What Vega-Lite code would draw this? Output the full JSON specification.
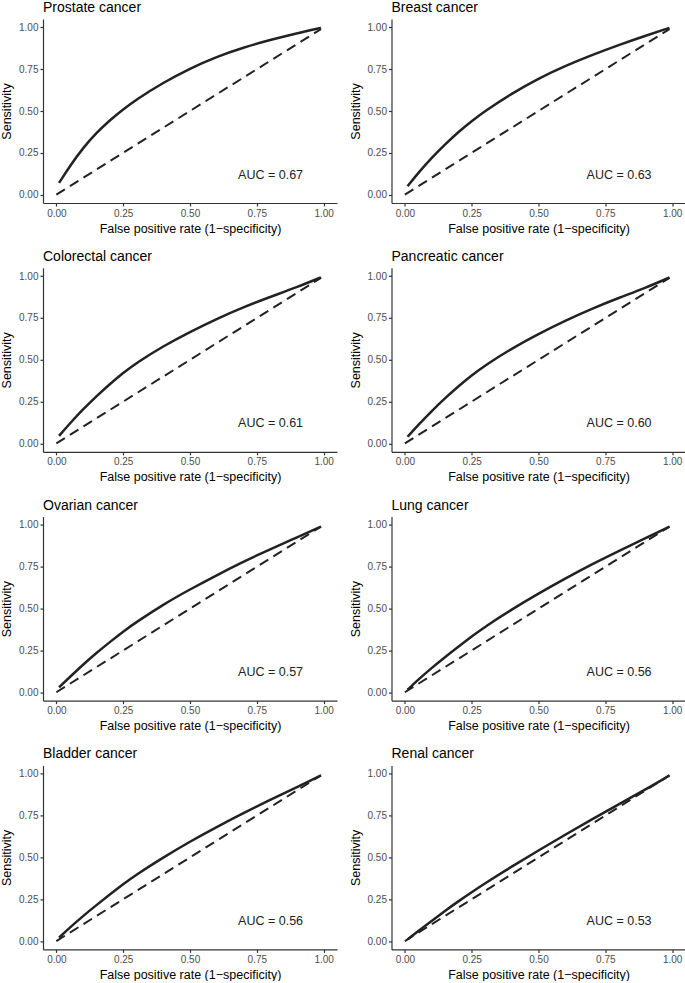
{
"$schema": "https://vega.github.io/schema/vega-lite/v6.json",
"padding": {"left": 0, "top": 1, "right": 0, "bottom": 0},
"bounds": "flush",
"columns": 2,
"spacing": {"row": 64.8, "column": 54.5},
"config": {
  "font": "Liberation Sans",
  "view": {"stroke": null},
  "title": {"anchor": "start", "frame": "group", "fontSize": 14, "fontWeight": "normal", "color": "#000000", "offset": 4},
  "axis": {"grid": false, "domainColor": "#333333", "domainWidth": 1.2, "tickColor": "#333333", "tickWidth": 1.2, "tickSize": 3, "labelFontSize": 10, "labelColor": "#4d4d4d", "labelPadding": 2, "titleFontSize": 12.5, "titleFontWeight": "normal", "titleColor": "#000000"},
  "axisX": {"titlePadding": 4},
  "axisY": {"titlePadding": 5}
},
"datasets": {
"diag": [
  {"k": "ref", "fpr": 0, "sens": 0}, {"k": "ref", "fpr": 1, "sens": 1},
  {"k": "dash", "fpr": 0, "sens": 0}, {"k": "dash", "fpr": 0.99, "sens": 0.99}
],
"auc": [
  {"c": "Prostate", "fpr": 0.68, "sens": 0.12, "label": "AUC = 0.67"},
  {"c": "Breast", "fpr": 0.68, "sens": 0.12, "label": "AUC = 0.63"},
  {"c": "Colorectal", "fpr": 0.68, "sens": 0.12, "label": "AUC = 0.61"},
  {"c": "Pancreatic", "fpr": 0.68, "sens": 0.12, "label": "AUC =  0.60"},
  {"c": "Ovarian", "fpr": 0.68, "sens": 0.12, "label": "AUC = 0.57"},
  {"c": "Lung", "fpr": 0.68, "sens": 0.12, "label": "AUC = 0.56"},
  {"c": "Bladder", "fpr": 0.68, "sens": 0.12, "label": "AUC = 0.56"},
  {"c": "Renal", "fpr": 0.68, "sens": 0.12, "label": "AUC = 0.53"}
],
"roc": [
  {"c":"Prostate","fpr":0.01,"sens":0.07},{"c":"Prostate","fpr":0.05,"sens":0.17},{"c":"Prostate","fpr":0.10,"sens":0.28},{"c":"Prostate","fpr":0.15,"sens":0.37},{"c":"Prostate","fpr":0.20,"sens":0.445},{"c":"Prostate","fpr":0.25,"sens":0.51},{"c":"Prostate","fpr":0.30,"sens":0.57},{"c":"Prostate","fpr":0.40,"sens":0.67},{"c":"Prostate","fpr":0.50,"sens":0.755},{"c":"Prostate","fpr":0.60,"sens":0.825},{"c":"Prostate","fpr":0.70,"sens":0.88},{"c":"Prostate","fpr":0.80,"sens":0.925},{"c":"Prostate","fpr":0.90,"sens":0.965},{"c":"Prostate","fpr":0.99,"sens":0.997},
  {"c":"Breast","fpr":0.01,"sens":0.05},{"c":"Breast","fpr":0.05,"sens":0.13},{"c":"Breast","fpr":0.10,"sens":0.22},{"c":"Breast","fpr":0.15,"sens":0.30},{"c":"Breast","fpr":0.20,"sens":0.375},{"c":"Breast","fpr":0.25,"sens":0.44},{"c":"Breast","fpr":0.30,"sens":0.50},{"c":"Breast","fpr":0.40,"sens":0.605},{"c":"Breast","fpr":0.50,"sens":0.695},{"c":"Breast","fpr":0.60,"sens":0.77},{"c":"Breast","fpr":0.70,"sens":0.835},{"c":"Breast","fpr":0.80,"sens":0.895},{"c":"Breast","fpr":0.90,"sens":0.95},{"c":"Breast","fpr":0.99,"sens":0.997},
  {"c":"Colorectal","fpr":0.01,"sens":0.045},{"c":"Colorectal","fpr":0.05,"sens":0.119},{"c":"Colorectal","fpr":0.10,"sens":0.204},{"c":"Colorectal","fpr":0.15,"sens":0.283},{"c":"Colorectal","fpr":0.20,"sens":0.355},{"c":"Colorectal","fpr":0.25,"sens":0.422},{"c":"Colorectal","fpr":0.30,"sens":0.482},{"c":"Colorectal","fpr":0.40,"sens":0.582},{"c":"Colorectal","fpr":0.50,"sens":0.667},{"c":"Colorectal","fpr":0.60,"sens":0.745},{"c":"Colorectal","fpr":0.70,"sens":0.815},{"c":"Colorectal","fpr":0.80,"sens":0.876},{"c":"Colorectal","fpr":0.90,"sens":0.934},{"c":"Colorectal","fpr":0.99,"sens":0.993},
  {"c":"Pancreatic","fpr":0.01,"sens":0.04},{"c":"Pancreatic","fpr":0.05,"sens":0.11},{"c":"Pancreatic","fpr":0.10,"sens":0.193},{"c":"Pancreatic","fpr":0.15,"sens":0.27},{"c":"Pancreatic","fpr":0.20,"sens":0.341},{"c":"Pancreatic","fpr":0.25,"sens":0.407},{"c":"Pancreatic","fpr":0.30,"sens":0.467},{"c":"Pancreatic","fpr":0.40,"sens":0.568},{"c":"Pancreatic","fpr":0.50,"sens":0.655},{"c":"Pancreatic","fpr":0.60,"sens":0.734},{"c":"Pancreatic","fpr":0.70,"sens":0.806},{"c":"Pancreatic","fpr":0.80,"sens":0.87},{"c":"Pancreatic","fpr":0.90,"sens":0.93},{"c":"Pancreatic","fpr":0.99,"sens":0.992},
  {"c":"Ovarian","fpr":0.01,"sens":0.03},{"c":"Ovarian","fpr":0.05,"sens":0.09},{"c":"Ovarian","fpr":0.10,"sens":0.165},{"c":"Ovarian","fpr":0.15,"sens":0.235},{"c":"Ovarian","fpr":0.20,"sens":0.30},{"c":"Ovarian","fpr":0.25,"sens":0.363},{"c":"Ovarian","fpr":0.30,"sens":0.42},{"c":"Ovarian","fpr":0.40,"sens":0.525},{"c":"Ovarian","fpr":0.50,"sens":0.615},{"c":"Ovarian","fpr":0.60,"sens":0.70},{"c":"Ovarian","fpr":0.70,"sens":0.78},{"c":"Ovarian","fpr":0.75,"sens":0.818},{"c":"Ovarian","fpr":0.80,"sens":0.855},{"c":"Ovarian","fpr":0.90,"sens":0.925},{"c":"Ovarian","fpr":0.99,"sens":0.99},
  {"c":"Lung","fpr":0.01,"sens":0.015},{"c":"Lung","fpr":0.05,"sens":0.075},{"c":"Lung","fpr":0.10,"sens":0.145},{"c":"Lung","fpr":0.15,"sens":0.21},{"c":"Lung","fpr":0.20,"sens":0.272},{"c":"Lung","fpr":0.25,"sens":0.333},{"c":"Lung","fpr":0.30,"sens":0.392},{"c":"Lung","fpr":0.40,"sens":0.495},{"c":"Lung","fpr":0.50,"sens":0.59},{"c":"Lung","fpr":0.60,"sens":0.68},{"c":"Lung","fpr":0.70,"sens":0.765},{"c":"Lung","fpr":0.80,"sens":0.845},{"c":"Lung","fpr":0.90,"sens":0.92},{"c":"Lung","fpr":0.99,"sens":0.99},
  {"c":"Bladder","fpr":0.01,"sens":0.02},{"c":"Bladder","fpr":0.05,"sens":0.08},{"c":"Bladder","fpr":0.10,"sens":0.15},{"c":"Bladder","fpr":0.15,"sens":0.215},{"c":"Bladder","fpr":0.20,"sens":0.278},{"c":"Bladder","fpr":0.25,"sens":0.34},{"c":"Bladder","fpr":0.30,"sens":0.398},{"c":"Bladder","fpr":0.40,"sens":0.50},{"c":"Bladder","fpr":0.50,"sens":0.595},{"c":"Bladder","fpr":0.60,"sens":0.682},{"c":"Bladder","fpr":0.70,"sens":0.765},{"c":"Bladder","fpr":0.80,"sens":0.845},{"c":"Bladder","fpr":0.90,"sens":0.92},{"c":"Bladder","fpr":0.99,"sens":0.99},
  {"c":"Renal","fpr":0.01,"sens":0.01},{"c":"Renal","fpr":0.05,"sens":0.06},{"c":"Renal","fpr":0.10,"sens":0.12},{"c":"Renal","fpr":0.15,"sens":0.18},{"c":"Renal","fpr":0.20,"sens":0.2375},{"c":"Renal","fpr":0.25,"sens":0.2925},{"c":"Renal","fpr":0.30,"sens":0.3455},{"c":"Renal","fpr":0.40,"sens":0.4455},{"c":"Renal","fpr":0.50,"sens":0.5415},{"c":"Renal","fpr":0.60,"sens":0.6355},{"c":"Renal","fpr":0.70,"sens":0.7275},{"c":"Renal","fpr":0.80,"sens":0.8175},{"c":"Renal","fpr":0.90,"sens":0.9055},{"c":"Renal","fpr":0.99,"sens":0.99}
]
},
"concat": [
{"title": "Prostate cancer", "width": 294, "height": 184,
 "encoding": {"x": {"field": "fpr", "type": "quantitative", "scale": {"domain": [-0.05, 1.05], "nice": false, "zero": false}, "axis": {"values": [0, 0.25, 0.5, 0.75, 1], "format": ".2f", "title": "False positive rate (1−specificity)"}},
              "y": {"field": "sens", "type": "quantitative", "scale": {"domain": [-0.05, 1.05], "nice": false, "zero": false}, "axis": {"values": [0, 0.25, 0.5, 0.75, 1], "format": ".2f", "title": "Sensitivity"}}},
 "layer": [
  {"data": {"name": "diag"}, "transform": [{"filter": "datum.k === 'ref'"}], "mark": {"type": "line", "color": "#dddddd", "strokeWidth": 0.5}},
  {"data": {"name": "diag"}, "transform": [{"filter": "datum.k === 'dash'"}], "mark": {"type": "line", "color": "#222222", "strokeWidth": 2, "strokeDash": [10, 6]}},
  {"data": {"name": "roc"}, "transform": [{"filter": "datum.c === 'Prostate'"}], "mark": {"type": "line", "color": "#222222", "strokeWidth": 2.5, "interpolate": "basis"}},
  {"data": {"name": "auc"}, "transform": [{"filter": "datum.c === 'Prostate'"}], "mark": {"type": "text", "align": "left", "baseline": "middle", "fontSize": 12.5, "color": "#222222"}, "encoding": {"text": {"field": "label"}}}
 ]},
{"title": "Breast cancer", "width": 294, "height": 184,
 "encoding": {"x": {"field": "fpr", "type": "quantitative", "scale": {"domain": [-0.05, 1.05], "nice": false, "zero": false}, "axis": {"values": [0, 0.25, 0.5, 0.75, 1], "format": ".2f", "title": "False positive rate (1−specificity)"}},
              "y": {"field": "sens", "type": "quantitative", "scale": {"domain": [-0.05, 1.05], "nice": false, "zero": false}, "axis": {"values": [0, 0.25, 0.5, 0.75, 1], "format": ".2f", "title": "Sensitivity"}}},
 "layer": [
  {"data": {"name": "diag"}, "transform": [{"filter": "datum.k === 'ref'"}], "mark": {"type": "line", "color": "#dddddd", "strokeWidth": 0.5}},
  {"data": {"name": "diag"}, "transform": [{"filter": "datum.k === 'dash'"}], "mark": {"type": "line", "color": "#222222", "strokeWidth": 2, "strokeDash": [10, 6]}},
  {"data": {"name": "roc"}, "transform": [{"filter": "datum.c === 'Breast'"}], "mark": {"type": "line", "color": "#222222", "strokeWidth": 2.5, "interpolate": "basis"}},
  {"data": {"name": "auc"}, "transform": [{"filter": "datum.c === 'Breast'"}], "mark": {"type": "text", "align": "left", "baseline": "middle", "fontSize": 12.5, "color": "#222222"}, "encoding": {"text": {"field": "label"}}}
 ]},
{"title": "Colorectal cancer", "width": 294, "height": 184,
 "encoding": {"x": {"field": "fpr", "type": "quantitative", "scale": {"domain": [-0.05, 1.05], "nice": false, "zero": false}, "axis": {"values": [0, 0.25, 0.5, 0.75, 1], "format": ".2f", "title": "False positive rate (1−specificity)"}},
              "y": {"field": "sens", "type": "quantitative", "scale": {"domain": [-0.05, 1.05], "nice": false, "zero": false}, "axis": {"values": [0, 0.25, 0.5, 0.75, 1], "format": ".2f", "title": "Sensitivity"}}},
 "layer": [
  {"data": {"name": "diag"}, "transform": [{"filter": "datum.k === 'ref'"}], "mark": {"type": "line", "color": "#dddddd", "strokeWidth": 0.5}},
  {"data": {"name": "diag"}, "transform": [{"filter": "datum.k === 'dash'"}], "mark": {"type": "line", "color": "#222222", "strokeWidth": 2, "strokeDash": [10, 6]}},
  {"data": {"name": "roc"}, "transform": [{"filter": "datum.c === 'Colorectal'"}], "mark": {"type": "line", "color": "#222222", "strokeWidth": 2.5, "interpolate": "basis"}},
  {"data": {"name": "auc"}, "transform": [{"filter": "datum.c === 'Colorectal'"}], "mark": {"type": "text", "align": "left", "baseline": "middle", "fontSize": 12.5, "color": "#222222"}, "encoding": {"text": {"field": "label"}}}
 ]},
{"title": "Pancreatic cancer", "width": 294, "height": 184,
 "encoding": {"x": {"field": "fpr", "type": "quantitative", "scale": {"domain": [-0.05, 1.05], "nice": false, "zero": false}, "axis": {"values": [0, 0.25, 0.5, 0.75, 1], "format": ".2f", "title": "False positive rate (1−specificity)"}},
              "y": {"field": "sens", "type": "quantitative", "scale": {"domain": [-0.05, 1.05], "nice": false, "zero": false}, "axis": {"values": [0, 0.25, 0.5, 0.75, 1], "format": ".2f", "title": "Sensitivity"}}},
 "layer": [
  {"data": {"name": "diag"}, "transform": [{"filter": "datum.k === 'ref'"}], "mark": {"type": "line", "color": "#dddddd", "strokeWidth": 0.5}},
  {"data": {"name": "diag"}, "transform": [{"filter": "datum.k === 'dash'"}], "mark": {"type": "line", "color": "#222222", "strokeWidth": 2, "strokeDash": [10, 6]}},
  {"data": {"name": "roc"}, "transform": [{"filter": "datum.c === 'Pancreatic'"}], "mark": {"type": "line", "color": "#222222", "strokeWidth": 2.5, "interpolate": "basis"}},
  {"data": {"name": "auc"}, "transform": [{"filter": "datum.c === 'Pancreatic'"}], "mark": {"type": "text", "align": "left", "baseline": "middle", "fontSize": 12.5, "color": "#222222"}, "encoding": {"text": {"field": "label"}}}
 ]},
{"title": "Ovarian cancer", "width": 294, "height": 184,
 "encoding": {"x": {"field": "fpr", "type": "quantitative", "scale": {"domain": [-0.05, 1.05], "nice": false, "zero": false}, "axis": {"values": [0, 0.25, 0.5, 0.75, 1], "format": ".2f", "title": "False positive rate (1−specificity)"}},
              "y": {"field": "sens", "type": "quantitative", "scale": {"domain": [-0.05, 1.05], "nice": false, "zero": false}, "axis": {"values": [0, 0.25, 0.5, 0.75, 1], "format": ".2f", "title": "Sensitivity"}}},
 "layer": [
  {"data": {"name": "diag"}, "transform": [{"filter": "datum.k === 'ref'"}], "mark": {"type": "line", "color": "#dddddd", "strokeWidth": 0.5}},
  {"data": {"name": "diag"}, "transform": [{"filter": "datum.k === 'dash'"}], "mark": {"type": "line", "color": "#222222", "strokeWidth": 2, "strokeDash": [10, 6]}},
  {"data": {"name": "roc"}, "transform": [{"filter": "datum.c === 'Ovarian'"}], "mark": {"type": "line", "color": "#222222", "strokeWidth": 2.5, "interpolate": "basis"}},
  {"data": {"name": "auc"}, "transform": [{"filter": "datum.c === 'Ovarian'"}], "mark": {"type": "text", "align": "left", "baseline": "middle", "fontSize": 12.5, "color": "#222222"}, "encoding": {"text": {"field": "label"}}}
 ]},
{"title": "Lung cancer", "width": 294, "height": 184,
 "encoding": {"x": {"field": "fpr", "type": "quantitative", "scale": {"domain": [-0.05, 1.05], "nice": false, "zero": false}, "axis": {"values": [0, 0.25, 0.5, 0.75, 1], "format": ".2f", "title": "False positive rate (1−specificity)"}},
              "y": {"field": "sens", "type": "quantitative", "scale": {"domain": [-0.05, 1.05], "nice": false, "zero": false}, "axis": {"values": [0, 0.25, 0.5, 0.75, 1], "format": ".2f", "title": "Sensitivity"}}},
 "layer": [
  {"data": {"name": "diag"}, "transform": [{"filter": "datum.k === 'ref'"}], "mark": {"type": "line", "color": "#dddddd", "strokeWidth": 0.5}},
  {"data": {"name": "diag"}, "transform": [{"filter": "datum.k === 'dash'"}], "mark": {"type": "line", "color": "#222222", "strokeWidth": 2, "strokeDash": [10, 6]}},
  {"data": {"name": "roc"}, "transform": [{"filter": "datum.c === 'Lung'"}], "mark": {"type": "line", "color": "#222222", "strokeWidth": 2.5, "interpolate": "basis"}},
  {"data": {"name": "auc"}, "transform": [{"filter": "datum.c === 'Lung'"}], "mark": {"type": "text", "align": "left", "baseline": "middle", "fontSize": 12.5, "color": "#222222"}, "encoding": {"text": {"field": "label"}}}
 ]},
{"title": "Bladder cancer", "width": 294, "height": 184,
 "encoding": {"x": {"field": "fpr", "type": "quantitative", "scale": {"domain": [-0.05, 1.05], "nice": false, "zero": false}, "axis": {"values": [0, 0.25, 0.5, 0.75, 1], "format": ".2f", "title": "False positive rate (1−specificity)"}},
              "y": {"field": "sens", "type": "quantitative", "scale": {"domain": [-0.05, 1.05], "nice": false, "zero": false}, "axis": {"values": [0, 0.25, 0.5, 0.75, 1], "format": ".2f", "title": "Sensitivity"}}},
 "layer": [
  {"data": {"name": "diag"}, "transform": [{"filter": "datum.k === 'ref'"}], "mark": {"type": "line", "color": "#dddddd", "strokeWidth": 0.5}},
  {"data": {"name": "diag"}, "transform": [{"filter": "datum.k === 'dash'"}], "mark": {"type": "line", "color": "#222222", "strokeWidth": 2, "strokeDash": [10, 6]}},
  {"data": {"name": "roc"}, "transform": [{"filter": "datum.c === 'Bladder'"}], "mark": {"type": "line", "color": "#222222", "strokeWidth": 2.5, "interpolate": "basis"}},
  {"data": {"name": "auc"}, "transform": [{"filter": "datum.c === 'Bladder'"}], "mark": {"type": "text", "align": "left", "baseline": "middle", "fontSize": 12.5, "color": "#222222"}, "encoding": {"text": {"field": "label"}}}
 ]},
{"title": "Renal cancer", "width": 294, "height": 184,
 "encoding": {"x": {"field": "fpr", "type": "quantitative", "scale": {"domain": [-0.05, 1.05], "nice": false, "zero": false}, "axis": {"values": [0, 0.25, 0.5, 0.75, 1], "format": ".2f", "title": "False positive rate (1−specificity)"}},
              "y": {"field": "sens", "type": "quantitative", "scale": {"domain": [-0.05, 1.05], "nice": false, "zero": false}, "axis": {"values": [0, 0.25, 0.5, 0.75, 1], "format": ".2f", "title": "Sensitivity"}}},
 "layer": [
  {"data": {"name": "diag"}, "transform": [{"filter": "datum.k === 'ref'"}], "mark": {"type": "line", "color": "#dddddd", "strokeWidth": 0.5}},
  {"data": {"name": "diag"}, "transform": [{"filter": "datum.k === 'dash'"}], "mark": {"type": "line", "color": "#222222", "strokeWidth": 2, "strokeDash": [10, 6]}},
  {"data": {"name": "roc"}, "transform": [{"filter": "datum.c === 'Renal'"}], "mark": {"type": "line", "color": "#222222", "strokeWidth": 2.5, "interpolate": "basis"}},
  {"data": {"name": "auc"}, "transform": [{"filter": "datum.c === 'Renal'"}], "mark": {"type": "text", "align": "left", "baseline": "middle", "fontSize": 12.5, "color": "#222222"}, "encoding": {"text": {"field": "label"}}}
 ]}
]
}
